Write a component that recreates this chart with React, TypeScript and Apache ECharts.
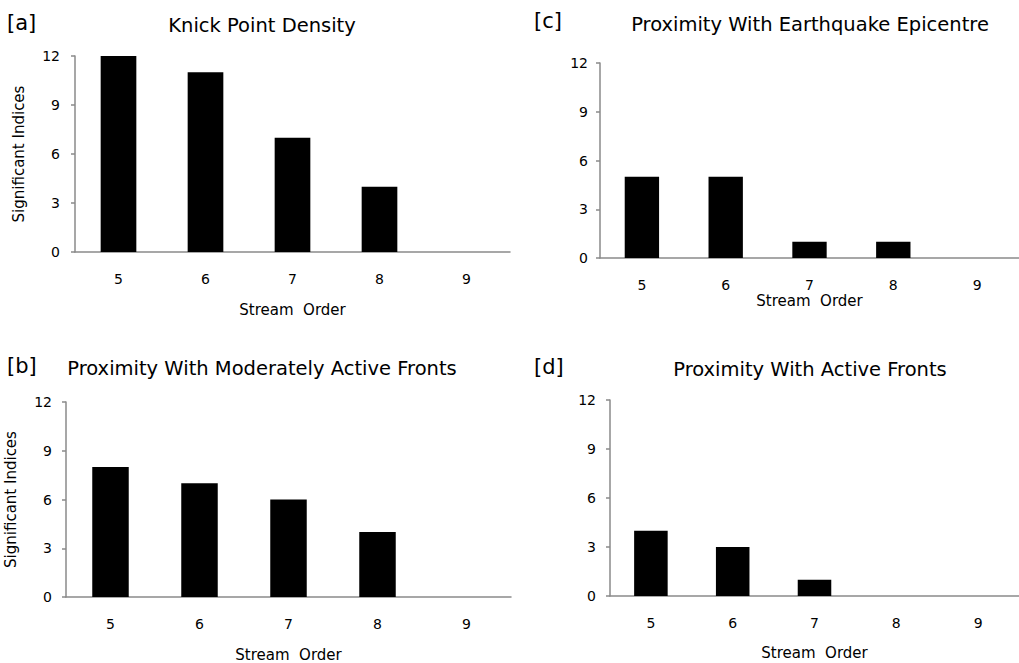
import React, { useEffect, useRef } from "react";
import * as echarts from "echarts";

const categories = ["5", "6", "7", "8", "9"];
const knickPointDensity = [12, 11, 7, 4, 0];
const earthquakeEpicentre = [5, 5, 1, 1, 0];
const moderatelyActiveFronts = [8, 7, 6, 4, 0];
const activeFronts = [4, 3, 1, 0, 0];

const panels = [
  { tag: "[a]", title: "Knick Point Density", data: knickPointDensity, grid: { left: 75, top: 56, width: 435, height: 196 }, yName: "Significant Indices", yGap: 49, yLabelMargin: 15, xGap: 50, titleX: 262, titleY: 25, tagX: 7, tagY: 23 },
  { tag: "[c]", title: "Proximity With Earthquake Epicentre", data: earthquakeEpicentre, grid: { left: 600, top: 63, width: 425, height: 195 }, yName: "", yGap: 48, yLabelMargin: 12, xGap: 35, titleX: 810, titleY: 24, tagX: 534, tagY: 21 },
  { tag: "[b]", title: "Proximity With Moderately Active Fronts", data: moderatelyActiveFronts, grid: { left: 66, top: 402, width: 445, height: 195 }, yName: "Significant Indices", yGap: 48, yLabelMargin: 14, xGap: 50, titleX: 262, titleY: 368, tagX: 7, tagY: 366 },
  { tag: "[d]", title: "Proximity With Active Fronts", data: activeFronts, grid: { left: 610, top: 400, width: 415, height: 196 }, yName: "", yGap: 48, yLabelMargin: 14, xGap: 49, titleX: 810, titleY: 369, tagX: 534, tagY: 367 },
];

const FONT = "'DejaVu Sans', 'Open Sans', sans-serif";
const AXIS_COLOR = "#8a8a8a";

export default function App() {
  const ref = useRef<HTMLDivElement>(null);
  useEffect(() => {
    document.body.style.margin = "0";
    const chart = echarts.init(ref.current!, null, { renderer: "svg" });
    const option: any = {
      animation: false,
      backgroundColor: "#ffffff",
      textStyle: { fontFamily: FONT },
      grid: panels.map((p) => ({ ...p.grid, containLabel: false })),
      xAxis: panels.map((p, i) => ({
        type: "category",
        gridIndex: i,
        data: categories,
        name: "Stream  Order",
        nameLocation: "middle",
        nameGap: p.xGap,
        nameTextStyle: { fontSize: 15, lineHeight: 15, color: "#000", fontFamily: FONT },
        axisLine: { lineStyle: { color: AXIS_COLOR, width: 1.5 } },
        axisTick: { show: false },
        axisLabel: { color: "#000", fontSize: 14, lineHeight: 13, margin: 20, fontFamily: FONT },
      })),
      yAxis: panels.map((p, i) => ({
        type: "value",
        gridIndex: i,
        min: 0,
        max: 12,
        interval: 3,
        name: p.yName,
        nameLocation: "middle",
        nameGap: p.yGap,
        nameTextStyle: { fontSize: 15, color: "#000", fontFamily: FONT },
        axisLine: { show: true, lineStyle: { color: AXIS_COLOR, width: 1.5 } },
        axisTick: { show: true, length: 4, lineStyle: { color: AXIS_COLOR, width: 1.5 } },
        axisLabel: { color: "#000", fontSize: 14, margin: p.yLabelMargin, fontFamily: FONT },
        splitLine: { show: false },
      })),
      series: panels.map((p, i) => ({
        type: "bar",
        xAxisIndex: i,
        yAxisIndex: i,
        data: p.data,
        barWidth: "41%",
        itemStyle: { color: "#000" },
      })),
      graphic: panels.flatMap((p) => [
        {
          type: "text",
          x: p.titleX,
          y: p.titleY,
          style: { text: p.title, fill: "#000", font: `19.5px ${FONT}`, textAlign: "center", textVerticalAlign: "middle" },
        },
        {
          type: "text",
          x: p.tagX,
          y: p.tagY,
          style: { text: p.tag, fill: "#000", font: `21px ${FONT}`, textAlign: "left", textVerticalAlign: "middle" },
        },
      ]),
    };
    chart.setOption(option);
    return () => chart.dispose();
  }, []);
  return <div ref={ref} style={{ width: 1019, height: 663 }} />;
}
